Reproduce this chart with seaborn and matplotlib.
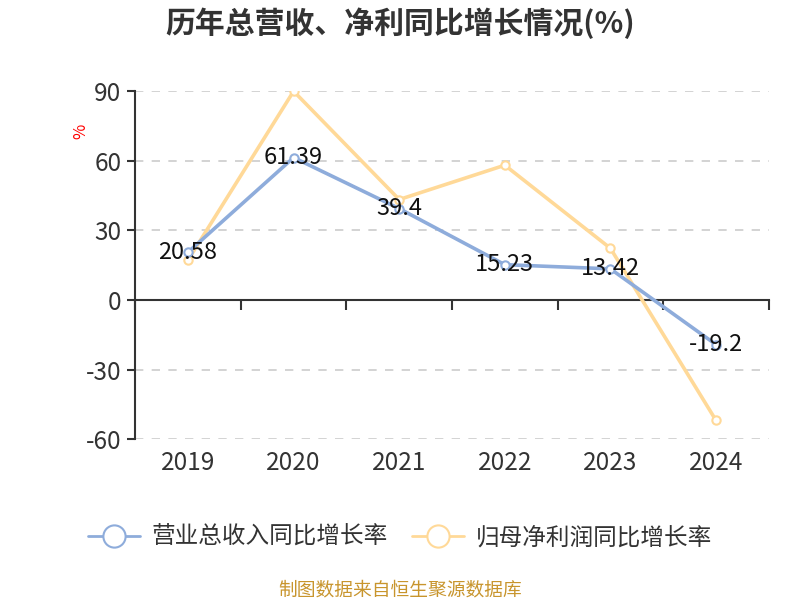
import matplotlib
matplotlib.use("Agg")
import matplotlib.pyplot as plt
import seaborn as sns
import pandas as pd
from matplotlib.lines import Line2D

years = ["2019", "2020", "2021", "2022", "2023", "2024"]
revenue_growth = [20.58, 61.39, 39.4, 15.23, 13.42, -19.2]
profit_growth = [17.2, 90.0, 43.3, 58.1, 22.3, -51.9]
series_names = ["营业总收入同比增长率", "归母净利润同比增长率"]
yticks = [-60, -30, 0, 30, 60, 90]

blue = "#8EACDB"
orange = "#FFD998"

sns.set_theme(style="white")
plt.rcParams['font.family'] = ['Noto Sans CJK SC', 'DejaVu Sans']

df = pd.DataFrame({
    "year": years * 2,
    "value": revenue_growth + profit_growth,
    "series": [series_names[0]] * 6 + [series_names[1]] * 6,
})

fig = plt.figure(figsize=(8, 6), dpi=100)
ax = fig.add_axes([0.169, 0.268, 0.792, 0.58])

sns.lineplot(data=df, x="year", y="value", hue="series",
             palette=[blue, orange], hue_order=series_names,
             marker="o", markersize=6, markerfacecolor="white", markeredgewidth=1.5,
             linewidth=2.6, ax=ax, legend=False, sort=False)
for line in ax.lines:
    line.set_markeredgecolor(line.get_color())
ax.lines[0].set_zorder(4)
ax.lines[1].set_zorder(3)

ax.set_xlim(-0.5, 5.5)
ax.set_ylim(-60, 90)
ax.set_yticks(yticks)
ax.set_yticklabels([str(v) for v in yticks])
for v in yticks:
    if v != 0:
        ax.axhline(v, color="#CCCCCC", linestyle=(0, (5, 5)), linewidth=1.2, zorder=0)

for s in ["top", "right"]:
    ax.spines[s].set_visible(False)
ax.spines["left"].set_color("#333333")
ax.spines["left"].set_linewidth(1.5)
ax.spines["bottom"].set_position(("data", 0))
ax.spines["bottom"].set_color("#333333")
ax.spines["bottom"].set_linewidth(1.5)
ax.set_xticks([i - 0.5 for i in range(7)])
ax.set_xticklabels([])
ax.tick_params(axis="x", direction="out", length=7, width=1.5, color="#333333", bottom=True)
ax.tick_params(axis="y", direction="out", length=6, width=1.5, color="#333333", left=True,
               labelsize=17.5, labelcolor="#333333", pad=4)
ax.set_xlabel("")
ax.set_ylabel("")

sec = ax.secondary_xaxis(0)
sec.set_xticks(range(len(years)))
sec.set_xticklabels(years)
sec.tick_params(length=0, labelsize=17.5, labelcolor="#333333", pad=8)
sec.spines["bottom"].set_visible(False)

for i, v in enumerate(revenue_growth):
    ax.text(i, v, f"{v:g}", ha="center", va="center", fontsize=17, color="#111111", zorder=6)

ax.text(-0.085, 0.885, "%", transform=ax.transAxes, rotation=90, color="red",
        fontsize=12, ha="center", va="center")

fig.text(0.5, 0.962, "历年总营收、净利同比增长情况(%)", ha="center", va="center",
         fontsize=21.5, fontweight="bold", color="#333333")

handles = [Line2D([0], [0], color=c, linewidth=2, marker="o", markersize=16,
                  markerfacecolor="white", markeredgewidth=1.5) for c in [blue, orange]]
fig.legend(handles, series_names, loc="center", bbox_to_anchor=(0.5, 0.104), ncol=2,
           frameon=False, fontsize=17, handlelength=2.2, columnspacing=1.0,
           labelcolor="#333333", handletextpad=0.5)

fig.text(0.5, 0.017, "制图数据来自恒生聚源数据库", ha="center", va="center",
         fontsize=13.5, color="#C8952D")

fig.savefig("out.png", dpi=100)
